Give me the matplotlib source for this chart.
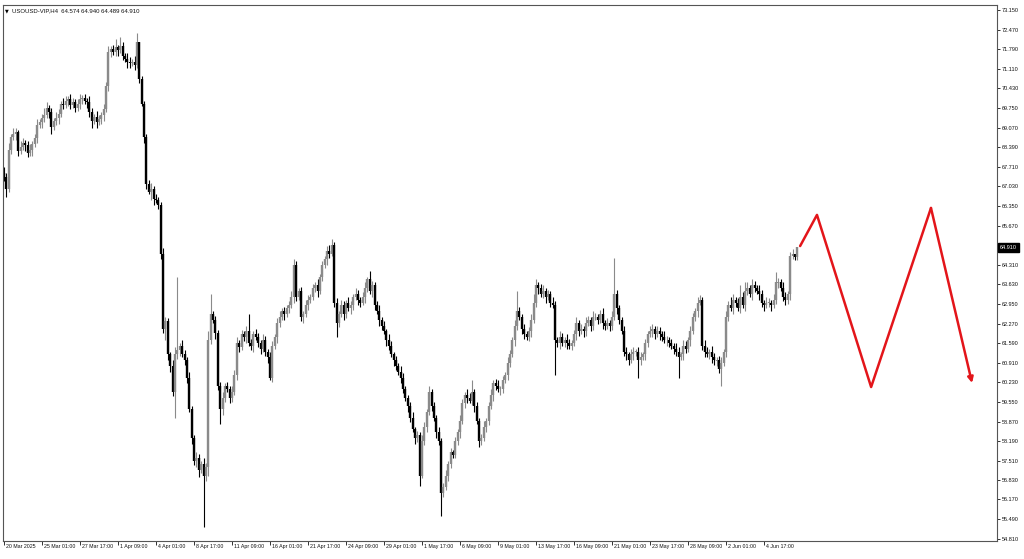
import matplotlib.pyplot as plt
import matplotlib.transforms as mtransforms

plt.rcParams['font.family'] = ['Liberation Sans', 'DejaVu Sans']

# H4 closes (one value per bar)
closes = [
    67.35, 66.95, 68.30, 68.75, 68.85, 68.90, 68.25, 68.40, 68.55, 68.45,
    68.20, 68.30, 68.50, 68.70, 69.15, 69.25, 69.40, 69.50, 69.75, 69.60,
    69.10, 69.30, 69.40, 69.55, 69.90, 69.85, 70.00, 70.05, 69.85, 69.95,
    69.75, 69.90, 70.05, 70.10, 70.00, 69.95, 69.60, 69.30, 69.45, 69.25,
    69.35, 69.50, 69.70, 70.50, 71.70, 71.80, 71.70, 71.85, 71.75, 71.90,
    71.55, 71.45, 71.35, 71.30, 71.35, 71.25, 72.05, 70.75, 69.90, 68.75,
    67.10, 66.85, 66.95, 66.60, 66.55, 66.40, 64.70, 62.10, 62.35, 61.20,
    60.80, 59.90, 61.20, 61.35, 61.50, 61.20, 61.00, 60.40, 59.30, 58.30,
    57.50, 57.60, 57.20, 57.40, 57.00, 57.30, 61.70, 62.60, 62.40, 61.95,
    60.10, 59.30, 59.70, 60.10, 60.00, 59.70, 59.90, 60.50, 61.60, 61.45,
    61.90, 61.80, 62.00, 61.60, 61.50, 61.90, 61.80, 61.60, 61.40, 61.70,
    61.30, 61.10, 60.40, 61.50, 61.80, 62.30, 62.50, 62.70, 62.60, 62.80,
    62.90, 63.20, 64.30, 63.20, 63.40, 62.50, 62.60, 62.90, 63.10, 63.20,
    63.50, 63.60, 63.40, 63.90, 64.30, 64.50, 64.80, 64.70, 65.00, 63.00,
    62.30, 62.60, 62.90, 62.60, 63.00, 62.80, 62.90, 63.20, 63.30, 63.10,
    63.00, 63.20, 63.50, 63.80, 63.40, 63.60, 62.90, 62.70, 62.40, 62.20,
    62.00, 61.70, 61.50, 61.20, 61.00, 60.80, 60.60, 60.40, 60.00, 59.70,
    59.40, 59.00, 58.60, 58.30, 58.40, 57.00, 58.20, 58.70, 59.20, 59.90,
    59.40, 59.00, 58.50, 58.20, 56.40, 56.60, 57.00, 57.40, 57.80, 57.70,
    58.20, 58.50, 58.90, 59.50, 59.80, 59.70, 59.60, 59.90, 59.40, 58.90,
    58.20, 58.30, 58.70, 58.90, 59.40, 59.80, 60.20, 60.10, 60.00, 60.00,
    60.30, 60.50, 60.90, 61.20, 61.70, 62.20, 62.70, 62.50, 62.10, 61.90,
    61.80, 62.00, 62.40, 63.00, 63.60, 63.50, 63.30, 63.40, 63.20, 63.30,
    63.00, 62.90, 61.70, 61.60, 61.80, 61.60, 61.70, 61.60, 61.50, 61.60,
    61.90, 62.30, 62.00, 62.10, 62.00, 62.30, 62.40, 62.20, 62.50, 62.50,
    62.40, 62.60, 62.30, 62.20, 62.30, 62.20, 62.50, 63.30, 62.80, 62.40,
    62.00, 61.30, 61.20, 61.00, 61.20, 61.30, 61.30, 61.00, 61.10, 61.20,
    61.60, 61.90, 62.00, 62.10, 61.90, 62.00, 61.90, 61.80, 61.70, 61.70,
    61.60, 61.50, 61.40, 61.30, 61.10, 61.20, 61.50, 61.40, 61.70, 62.00,
    62.50, 62.70, 63.00, 63.10, 61.50, 61.30, 61.20, 61.30, 61.10, 61.00,
    61.00, 60.70, 60.90, 61.30, 62.50, 62.90, 62.80, 63.10, 63.00, 62.80,
    63.20, 62.90, 63.40, 63.50, 63.30, 63.60, 63.50, 63.40, 63.30, 63.00,
    62.90, 63.00, 63.00, 62.90, 63.10, 63.70, 63.70, 63.50, 63.20, 63.10,
    63.30, 64.60, 64.70, 64.574, 64.910,
]
first_open = 67.50

# wick lengths above / below the body
upper_wick = [
    .20, .15, .25, .10, .20, .15, .10, .20, .15, .10,
    .15, .20, .10, .15, .20, .10, .15, .25, .20, .10,
    .15, .10, .20, .15, .10, .20, .15, .10, .20, .15,
    .10, .15, .20, .10, .15, .10, .20, .15, .10, .20,
    .15, .10, .20, .15, .20, .10, .15, .30, .10, .30,
    .15, .10, .20, .15, .10, .20, .30, .00, .10, .10,
    .10, .15, .20, .10, .15, .10, .10, .20, .15, .10,
    .10, .20, .25, 2.55, .10, .20, .15, .10, .20, .10,
    .10, .20, .15, .10, .20, .15, .30, .70, .10, .15,
    .10, .15, .20, .10, .15, .10, .20, .15, .20, .10,
    .15, .10, .20, .60, .15, .10, .20, .15, .10, .20,
    .15, .10, .20, .15, .10, .15, .20, .10, .15, .10,
    .15, .20, .20, .15, .10, .15, .10, .20, .15, .10,
    .15, .10, .20, .10, .15, .10, .15, .20, .20, .10,
    .15, .10, .20, .15, .10, .20, .15, .10, .20, .15,
    .10, .15, .20, .10, .30, .15, .10, .15, .20, .10,
    .15, .10, .20, .15, .10, .15, .10, .20, .15, .10,
    .10, .15, .20, .10, .15, .10, .20, .15, .10, .20,
    .10, .15, .10, .20, .10, .15, .20, .10, .15, .10,
    .15, .10, .20, .15, .10, .20, .15, .40, .10, .15,
    .10, .15, .20, .10, .15, .20, .10, .15, .20, .10,
    .15, .10, .20, .15, .10, .20, .70, .15, .10, .15,
    .10, .15, .20, .30, .20, .10, .15, .20, .10, .15,
    .10, .20, .15, .10, .20, .15, .10, .20, .15, .10,
    .15, .20, .10, .15, .10, .20, .15, .10, .20, .15,
    .10, .15, .20, .10, .15, .10, .20, 1.25, .15, .10,
    .10, .20, .15, .10, .20, .15, .10, .15, .20, .10,
    .15, .10, .20, .15, .10, .20, .15, .10, .20, .15,
    .10, .15, .10, .20, .15, .10, .20, .15, .10, .20,
    .15, .10, .20, .15, .10, .20, .15, .10, .20, .15,
    .10, .15, .20, .10, .20, .15, .30, .20, .10, .15,
    .40, .15, .30, .20, .10, .20, .15, .10, .20, .15,
    .10, .20, .15, .10, .20, .35, .15, .10, .20, .15,
    .10, .15, .15, .00, .03,
]
lower_wick = [
    .15, .30, .10, .15, .10, .20, .15, .10, .10, .20,
    .15, .10, .20, .10, .15, .10, .20, .15, .10, .20,
    .25, .10, .15, .20, .10, .15, .10, .20, .15, .10,
    .15, .10, .20, .15, .10, .20, .15, .25, .10, .20,
    .10, .15, .20, .10, .15, .20, .10, .15, .20, .10,
    .15, .10, .20, .15, .10, .20, .10, .15, .10, .20,
    .15, .10, .30, .20, .10, .15, .20, .15, .40, .20,
    .20, .15, .90, .15, .20, .10, .15, .20, .10, .20,
    .15, .20, .25, .10, 1.80, .20, .30, .15, .10, .20,
    .15, .50, .20, .15, .10, .20, .15, .10, .20, .15,
    .10, .15, .20, .10, .15, .20, .10, .15, .20, .10,
    .15, .20, .10, .15, .10, .20, .15, .10, .20, .10,
    .15, .10, .20, .15, .10, .15, .20, .10, .15, .10,
    .10, .15, .20, .10, .15, .10, .20, .15, .10, .15,
    .50, .15, .10, .20, .15, .10, .20, .15, .10, .20,
    .15, .10, .20, .15, .10, .20, .15, .10, .20, .15,
    .10, .20, .15, .10, .20, .15, .10, .20, .15, .10,
    .20, .15, .10, .20, .15, .35, .10, .15, .20, .10,
    .15, .10, .20, .15, .80, .15, .10, .20, .15, .10,
    .10, .15, .20, .10, .15, .20, .10, .15, .20, .10,
    .20, .15, .10, .20, .15, .10, .20, .15, .10, .20,
    .15, .10, .20, .15, .10, .20, .15, .10, .20, .15,
    .10, .15, .20, .10, .15, .20, .10, .15, .20, .10,
    .15, .10, 1.20, .15, .20, .10, .15, .20, .10, .15,
    .10, .20, .15, .10, .20, .15, .10, .20, .15, .10,
    .15, .10, .20, .15, .10, .20, .15, .10, .20, .15,
    .10, .15, .20, .15, .10, .20, .15, .60, .15, .10,
    .20, .15, .10, .20, .15, .10, .20, .15, .10, .20,
    .15, .10, .20, .15, .70, .10, .20, .15, .10, .20,
    .10, .15, .20, .10, .15, .20, .10, .15, .20, .15,
    .20, .15, .60, .10, .20, .15, .10, .20, .15, .10,
    .15, .10, .20, .15, .10, .20, .15, .10, .20, .15,
    .20, .10, .15, .20, .10, .15, .20, .10, .15, .20,
    .15, .20, .10, .10, .085,
]

# hand-drawn red forecast zigzag (bar index, price)
forecast_x = [335.2, 342.3, 365.1, 390.3, 407.6]
forecast_y = [64.96, 66.04, 60.07, 66.28, 60.21]

price_ticks = [73.150, 72.470, 71.790, 71.110, 70.430, 69.750, 69.070, 68.390,
               67.710, 67.030, 66.350, 65.670, 64.310, 63.630, 62.950, 62.270,
               61.590, 60.910, 60.230, 59.550, 58.870, 58.190, 57.510, 56.830,
               56.170, 55.490, 54.810]
time_tick_bars = [0, 16, 32, 48, 64, 80, 96, 112, 128, 144, 160, 176, 192,
                  208, 224, 240, 256, 272, 288, 304, 320]
time_tick_labels = ['20 Mar 2025', '25 Mar 01:00', '27 Mar 17:00', '1 Apr 09:00',
                    '4 Apr 01:00', '8 Apr 17:00', '11 Apr 09:00', '16 Apr 01:00',
                    '21 Apr 17:00', '24 Apr 09:00', '29 Apr 01:00', '1 May 17:00',
                    '6 May 09:00', '9 May 01:00', '13 May 17:00', '16 May 09:00',
                    '21 May 01:00', '23 May 17:00', '28 May 09:00', '2 Jun 01:00',
                    '4 Jun 17:00']
last_price = 64.910

opens = [first_open] + closes[:-1]

fig = plt.figure(figsize=(10.24, 5.59), dpi=100)
ax = fig.add_axes([3 / 1024, 18 / 559, 994 / 1024, 536 / 559])

bull_col = '#8a8a8a'
bear_col = '#000000'
for i, (o, c, uw, lw) in enumerate(zip(opens, closes, upper_wick, lower_wick)):
    col = bull_col if c >= o else bear_col
    top, bot = max(o, c), min(o, c)
    ax.vlines(i, bot - lw, top + uw, color=col, lw=0.8)
    if top - bot < 0.03:
        top, bot = top + 0.015, bot - 0.015
    ax.vlines(i, bot, top, color=col, lw=1.7)

# forecast path
ax.plot(forecast_x[:-1], forecast_y[:-1], color='#e3151a', lw=1.8,
        solid_capstyle='round', solid_joinstyle='round')
ax.annotate('', xy=(forecast_x[-1], forecast_y[-1]),
            xytext=(forecast_x[-2], forecast_y[-2]),
            arrowprops=dict(arrowstyle='-|>', color='#e3151a', lw=1.8,
                            mutation_scale=8, shrinkA=0, shrinkB=0))

ax.set_xlim(-0.42, 418.1)
ax.set_ylim(54.73, 73.32)

for sp in ax.spines.values():
    sp.set_color('#555555')
    sp.set_linewidth(0.8)

ax.yaxis.tick_right()
ax.set_yticks(price_ticks)
ax.set_yticklabels([f'{v:.3f}' for v in price_ticks], fontsize=4.0)
ax.tick_params(axis='y', direction='out', length=2, width=0.6, pad=1.5,
               colors='#111111')

ax.set_xticks(time_tick_bars)
ax.set_xticklabels([])
ax.tick_params(axis='x', direction='out', length=3, width=0.6, colors='#111111')
off = mtransforms.ScaledTranslation(2 / 100, -3 / 100, fig.dpi_scale_trans)
trans = mtransforms.blended_transform_factory(ax.transData, ax.transAxes) + off
for b, lab in zip(time_tick_bars, time_tick_labels):
    ax.text(b, 0, lab, transform=trans, fontsize=3.8, ha='left', va='top',
            color='#111111')

# current price box on the price scale
ax.text(1.003, last_price, f'{last_price:.3f}',
        transform=mtransforms.blended_transform_factory(ax.transAxes, ax.transData),
        fontsize=4.0, color='white', ha='left', va='center',
        bbox=dict(boxstyle='square,pad=0.3', fc='black', ec='black'))

fig.text(5 / 1024, 1 - 11 / 559, '\u25bc', fontsize=3.5, va='center', ha='left',
         family='DejaVu Sans')
fig.text(12 / 1024, 1 - 11 / 559, 'USOUSD-VIP,H4  64.574 64.940 64.489 64.910',
         fontsize=4.3, va='center', ha='left', color='#111111')

plt.savefig('out.png', dpi=100)
